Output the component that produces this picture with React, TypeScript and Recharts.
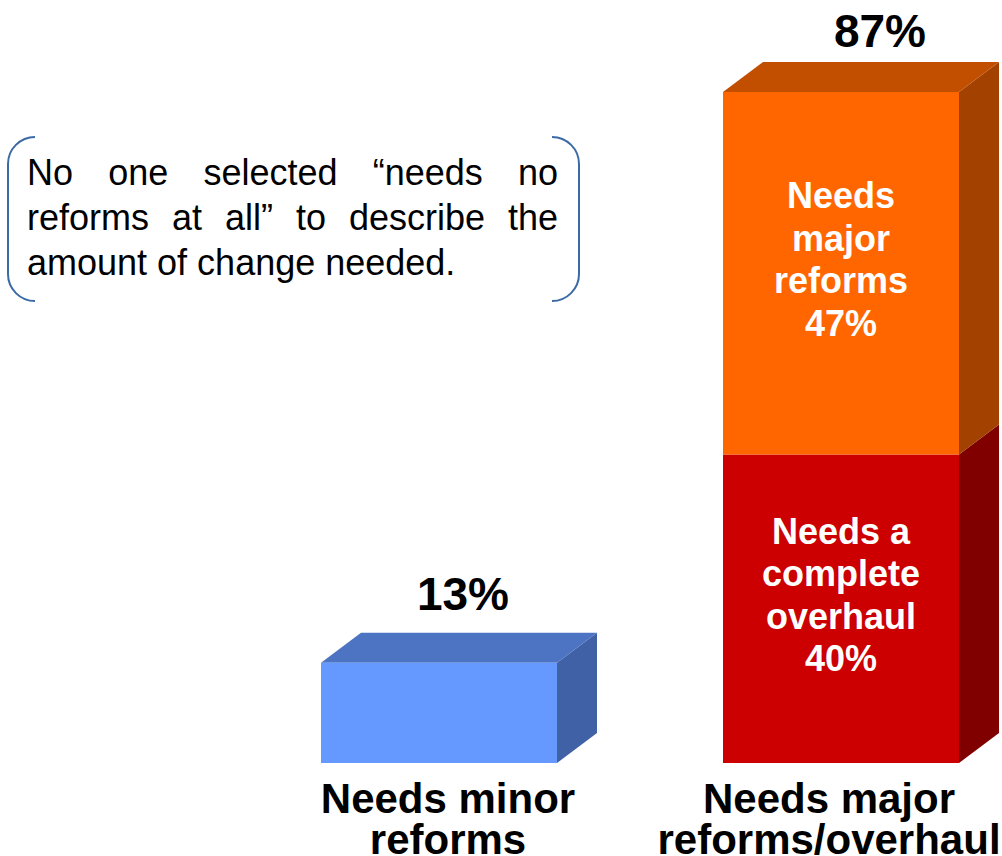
import { BarChart, Bar, XAxis, YAxis, LabelList } from 'recharts'

// Categories and values
const categories = ['Needs minor reforms', 'Needs major reforms/overhaul']
const categoryLines = [
  ['Needs minor', 'reforms'],
  ['Needs major', 'reforms/overhaul'],
]
const minorValues = [13, null]
const overhaulValues = [null, 40]
const majorValues = [null, 47]
const totals = [13, 87]

const overhaulLines = ['Needs a', 'complete', 'overhaul']
const majorLines = ['Needs', 'major', 'reforms']

const noteLines = [
  'No one selected \u201cneeds no',
  'reforms at all\u201d to describe the',
  'amount of change needed.',
]

const data = categories.map((category, i) => ({
  category,
  minor: minorValues[i],
  overhaul: overhaulValues[i],
  major: majorValues[i],
}))

const FONT = '"Liberation Sans", Arial, Helvetica, sans-serif'
const DX = 40
const DY = 30

// 3D box: front face, right side face and (optionally) top face
function Box3D(props: any) {
  const { x, y, width, height, front, side, top, showTop } = props
  if (!height || height <= 0) return null
  const r = x + width
  return (
    <g>
      <polygon
        points={`${r},${y} ${r + DX},${y - DY} ${r + DX},${y + height - DY} ${r},${y + height}`}
        fill={side}
      />
      {showTop && (
        <polygon
          points={`${x},${y} ${x + DX},${y - DY} ${r + DX},${y - DY} ${r},${y}`}
          fill={top}
        />
      )}
      <rect x={x} y={y} width={width} height={height} fill={front} />
    </g>
  )
}

function segmentLabel(lines: string[]) {
  return (props: any) => {
    const { x, y, width, height, value } = props
    if (value == null || !height) return null
    const all = [...lines, `${value}%`]
    const lh = 42.5
    const cx = x + width / 2
    const first = y + height / 2 - 65
    return (
      <text textAnchor="middle" fill="#ffffff" fontFamily={FONT} fontWeight="bold" fontSize={36}>
        {all.map((t, i) => (
          <tspan key={i} x={cx} y={first + i * lh}>
            {t}
          </tspan>
        ))}
      </text>
    )
  }
}

function totalLabel(shift: number, lift: number) {
  return (props: any) => {
    const { x, y, width, value, index } = props
    if (value == null) return null
    return (
      <text
        x={x + width / 2 + shift}
        y={y - lift}
        textAnchor="middle"
        fill="#000000"
        fontFamily={FONT}
        fontWeight="bold"
        fontSize={46}
      >
        {`${totals[index]}%`}
      </text>
    )
  }
}

const LABEL_SHIFT = [9, -12]

function CategoryTick(props: any) {
  const { x, y, index } = props
  const lines = categoryLines[index] ?? []
  return (
    <text textAnchor="middle" fill="#000000" fontFamily={FONT} fontWeight="bold" fontSize={42}>
      {lines.map((t, i) => (
        <tspan key={i} x={x + LABEL_SHIFT[index]} y={y + 50 + i * 41}>
          {t}
        </tspan>
      ))}
    </text>
  )
}

export default function App() {
  return (
    <div
      style={{
        position: 'absolute',
        left: 0,
        top: 0,
        width: 1002,
        height: 856,
        overflow: 'hidden',
        background: '#ffffff',
      }}
    >
      <BarChart
        width={1042}
        height={856}
        data={data}
        margin={{ top: 92, right: 0, bottom: 0, left: 238 }}
        barSize={236}
      >
        <YAxis hide type="number" domain={[0, 87]} />
        <XAxis
          dataKey="category"
          height={93}
          axisLine={false}
          tickLine={false}
          tickSize={0}
          tickMargin={0}
          interval={0}
          tick={<CategoryTick />}
        />
        <Bar
          dataKey="minor"
          stackId="s"
          isAnimationActive={false}
          shape={<Box3D front="#6699ff" side="#4061a6" top="#4d74c2" showTop />}
        >
          <LabelList dataKey="minor" content={totalLabel(24, 53)} />
        </Bar>
        <Bar
          dataKey="overhaul"
          stackId="s"
          isAnimationActive={false}
          shape={<Box3D front="#cc0000" side="#800000" top="#990000" showTop={false} />}
        >
          <LabelList dataKey="overhaul" content={segmentLabel(overhaulLines)} />
        </Bar>
        <Bar
          dataKey="major"
          stackId="s"
          isAnimationActive={false}
          shape={<Box3D front="#ff6600" side="#a34200" top="#c24f00" showTop />}
        >
          <LabelList dataKey="major" content={segmentLabel(majorLines)} />
          <LabelList dataKey="major" content={totalLabel(39, 45)} />
        </Bar>
      </BarChart>

      {/* note box with bracket-style corners */}
      <svg
        width={1002}
        height={856}
        style={{ position: 'absolute', left: 0, top: 0, pointerEvents: 'none' }}
      >
        <path
          d="M 35 137 A 27 27 0 0 0 8 164 L 8 274 A 27 27 0 0 0 35 301"
          fill="none"
          stroke="#3b6aa5"
          strokeWidth={2}
        />
        <path
          d="M 552 137 A 27 27 0 0 1 579 164 L 579 274 A 27 27 0 0 1 552 301"
          fill="none"
          stroke="#3b6aa5"
          strokeWidth={2}
        />
      </svg>
      <div
        style={{
          position: 'absolute',
          left: 27,
          top: 150,
          width: 531,
          fontFamily: FONT,
          fontSize: 36,
          lineHeight: '45px',
          color: '#000000',
        }}
      >
        {noteLines.map((t, i) => (
          <div
            key={i}
            style={{
              textAlign: i < noteLines.length - 1 ? 'justify' : 'left',
              textAlignLast: i < noteLines.length - 1 ? 'justify' : 'left',
              whiteSpace: 'nowrap',
            }}
          >
            {t}
          </div>
        ))}
      </div>
    </div>
  )
}
